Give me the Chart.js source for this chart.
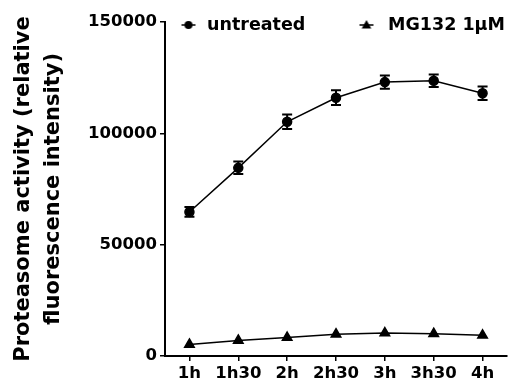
<!DOCTYPE html>
<html><head><meta charset="utf-8">
<script src="https://cdn.jsdelivr.net/npm/chart.js@4"></script>
<style>html,body{margin:0;padding:0;background:#fff;}#wrap{width:509px;height:387px;position:relative;}</style>
</head><body><div id="wrap"><canvas id="c" width="509" height="387"></canvas></div>
<script>
const categories = ['1h', '1h30', '2h', '2h30', '3h', '3h30', '4h'];
const untreated = [64700, 84500, 105200, 116000, 123000, 123600, 118000];
const untreatedErr = [2200, 2800, 3300, 3300, 3000, 2800, 3000];
const mg132 = [5200, 7000, 8300, 9800, 10300, 10000, 9300];
const yTicks = [0, 50000, 100000, 150000];
const seriesNames = ['untreated', 'MG132 1\u03bcM'];
const yTitle = ['Proteasome activity (relative', 'fluorescence intensity)'];

const FAM = "'DejaVu Sans', sans-serif";
const LEGEND_MARKER_X = [188.5, 366.5];
const LEGEND_TEXT_X = [207, 388];
const LEGEND_Y = 25;

function legendIcon(shape) {
  const c = document.createElement('canvas');
  c.width = 20; c.height = 12;
  const g = c.getContext('2d');
  g.strokeStyle = '#000'; g.lineWidth = 1.5;
  g.beginPath(); g.moveTo(3, 6); g.lineTo(17, 6); g.stroke();
  g.fillStyle = '#000';
  g.beginPath();
  if (shape === 'circle') { g.arc(10, 6, 4, 0, Math.PI * 2); }
  else { g.moveTo(10, 1); g.lineTo(14.8, 9.5); g.lineTo(5.2, 9.5); g.closePath(); }
  g.fill();
  return c;
}
const icons = [legendIcon('circle'), legendIcon('triangle')];

const errorBars = {
  id: 'errorBars',
  afterDatasetsDraw(chart) {
    const ctx = chart.ctx, ys = chart.scales.y;
    chart.data.datasets.forEach((ds, di) => {
      if (!ds.errors) return;
      const meta = chart.getDatasetMeta(di);
      ctx.save();
      ctx.strokeStyle = '#000'; ctx.lineWidth = 2;
      meta.data.forEach((pt, i) => {
        const e = ds.errors[i]; if (!e) return;
        const v = ds.data[i];
        const y1 = ys.getPixelForValue(v + e), y2 = ys.getPixelForValue(v - e);
        const x = pt.x, hw = 5;
        ctx.beginPath();
        ctx.moveTo(x, y1); ctx.lineTo(x, y2);
        ctx.moveTo(x - hw, y1); ctx.lineTo(x + hw, y1);
        ctx.moveTo(x - hw, y2); ctx.lineTo(x + hw, y2);
        ctx.stroke();
      });
      ctx.restore();
    });
  }
};

const inlineLegend = {
  id: 'inlineLegend',
  afterDraw(chart) {
    const ctx = chart.ctx;
    ctx.save();
    ctx.fillStyle = '#000';
    ctx.font = "bold 17.5px " + FAM;
    ctx.textAlign = 'left';
    ctx.textBaseline = 'middle';
    chart.data.datasets.forEach((ds, i) => {
      const img = icons[i];
      ctx.drawImage(img, LEGEND_MARKER_X[i] - img.width / 2, LEGEND_Y - img.height / 2);
      ctx.fillText(ds.label, LEGEND_TEXT_X[i], LEGEND_Y);
    });
    ctx.restore();
  }
};

new Chart(document.getElementById('c'), {
  type: 'line',
  data: {
    labels: categories,
    datasets: [
      { label: seriesNames[0], data: untreated, errors: untreatedErr, borderColor: '#000', borderWidth: 1.5,
        pointStyle: 'circle', pointRadius: 4.5, pointBackgroundColor: '#000', pointBorderColor: '#000', tension: 0 },
      { label: seriesNames[1], data: mg132, borderColor: '#000', borderWidth: 1.5,
        pointStyle: 'triangle', pointRadius: 5.5, pointBackgroundColor: '#000', pointBorderColor: '#000', tension: 0 }
    ]
  },
  options: {
    responsive: false, animation: false, devicePixelRatio: 1,
    layout: { autoPadding: false, padding: { top: 22, right: 2, bottom: 0, left: 0 } },
    plugins: {
      tooltip: { enabled: false },
      legend: { display: false }
    },
    scales: {
      x: {
        type: 'category', offset: true,
        grid: { display: true, drawOnChartArea: false, drawTicks: true, tickLength: 5, color: '#000', lineWidth: 1.5, offset: false },
        border: { display: true, color: '#000', width: 2 },
        ticks: { color: '#000', padding: 3, maxRotation: 0, autoSkip: false, font: { family: FAM, size: 16.5, weight: 'bold' } },
        afterFit: (s) => { s.height = 31; }
      },
      y: {
        min: 0, max: 150000,
        afterBuildTicks: (s) => { s.ticks = yTicks.map(v => ({ value: v })); },
        grid: { display: true, drawOnChartArea: false, drawTicks: true, tickLength: 5, color: '#000', lineWidth: 1.5 },
        border: { display: true, color: '#000', width: 2 },
        ticks: { color: '#000', padding: 3, font: { family: FAM, size: 16.5, weight: 'bold' }, callback: (v) => String(v) },
        title: { display: true, text: yTitle, color: '#000', font: { family: FAM, size: 21, weight: 'bold', lineHeight: 1.43 }, padding: { top: 9, bottom: 0 } },
        afterFit: (s) => { s.width = 165; }
      }
    }
  },
  plugins: [errorBars, inlineLegend]
});
</script></body></html>
